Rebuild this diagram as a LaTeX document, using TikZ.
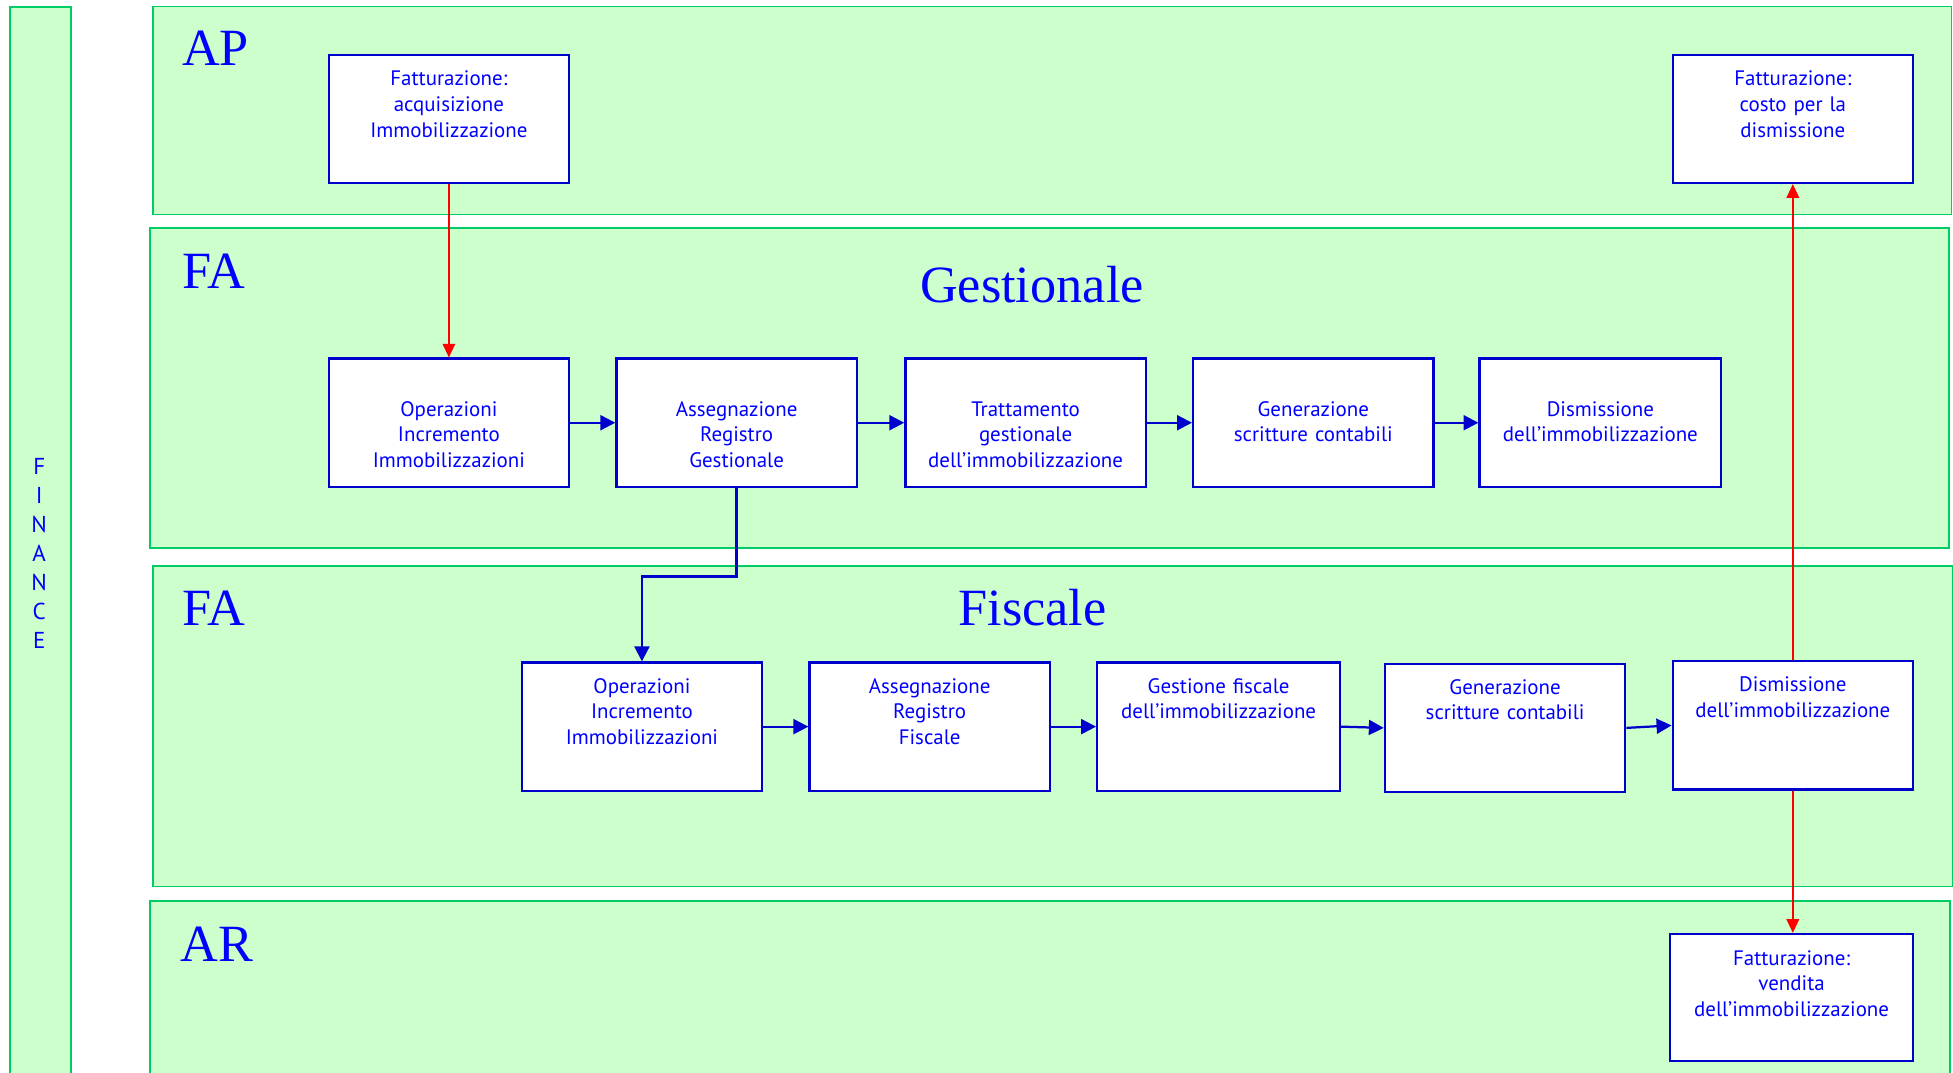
\documentclass[tikz,border=0pt]{standalone}
\usepackage{fontspec}
\setmainfont{Liberation Serif}
\newfontfamily\boxfont{PT Sans}
\usetikzlibrary{arrows.meta}
\definecolor{lanefill}{HTML}{CCFFCC}
\definecolor{laneline}{HTML}{00CC66}
\definecolor{boxline}{HTML}{0000CC}
\definecolor{txtblue}{HTML}{0000FF}
\definecolor{flowred}{HTML}{FF0000}
\begin{document}
\begin{tikzpicture}[x=1pt,y=-1pt,
  lane/.style={draw=laneline, fill=lanefill, line width=1.5pt, inner sep=0pt, anchor=north west},
  procbox/.style={draw=boxline, fill=white, line width=1.8pt, inner sep=0pt, anchor=north west,
    minimum width=193pt, minimum height=103pt},
  boxtext/.style={text=txtblue, font=\boxfont\fontsize{16.8}{20.5}\selectfont, text width=190pt,
    align=center, inner sep=0pt, anchor=base},
  biglabel/.style={text=txtblue, font=\fontsize{42}{50}\selectfont, inner sep=0pt},
  bflow/.style={draw=boxline, line width=1.8pt, -{Triangle[length=12pt,width=12pt]}},
  rflow/.style={draw=flowred, line width=1.5pt, -{Triangle[length=11pt,width=10pt]}},
]
\clip (0,0) rectangle (1568,861);
% lanes
\node[lane, minimum width=49pt, minimum height=880pt] (fin) at (7,5) {};
\node[lane, minimum width=1444pt, minimum height=167pt] (ap) at (122,4.5) {};
\node[lane, minimum width=1444pt, minimum height=256.5pt] (fag) at (120,182.5) {};
\node[lane, minimum width=1445pt, minimum height=257pt] (faf) at (122,454) {};
\node[lane, minimum width=1445pt, minimum height=160pt] (ar) at (120,722.5) {};
% FINANCE
\node[text=txtblue, font=\boxfont\fontsize{18.5}{23.3}\selectfont, align=center, inner sep=0pt]
  (fintext) at (31.5,444.5) {F\\I\\N\\A\\N\\C\\E};
% lane labels
\node[biglabel, anchor=base west] (aplab) at (146,52.5) {AP};
\node[biglabel, anchor=base west] (fag-lab) at (146,232) {FA};
\node[biglabel, anchor=base] (gest-lab) at (828.5,242.5) {Gestionale};
\node[biglabel, anchor=base west] (faf-lab) at (146,502) {FA};
\node[biglabel, anchor=base] (fisc-lab) at (829,502) {Fiscale};
\node[biglabel, anchor=base west] (ar-lab) at (145,772) {AR};
% AP boxes
\node[procbox] (apl) at (263,43) {};
\node[boxtext] (apl-t) at ([yshift=-26pt]apl.north) {Fatturazione:\\acquisizione\\Immobilizzazione};
\node[procbox] (apr) at (1342,43) {};
\node[boxtext] (apr-t) at ([yshift=-26pt]apr.north) {Fatturazione:\\costo per la\\dismissione};
% Gestionale row
\node[procbox] (g1) at (263,287) {};
\node[boxtext] (g1-t) at ([yshift=-47pt]g1.north) {Operazioni\\Incremento\\Immobilizzazioni};
\node[procbox] (g2) at (494,287) {};
\node[boxtext] (g2-t) at ([yshift=-47pt]g2.north) {Assegnazione\\Registro\\Gestionale};
\node[procbox] (g3) at (726,287) {};
\node[boxtext] (g3-t) at ([yshift=-47pt]g3.north) {Trattamento\\gestionale\\dell’immobilizzazione};
\node[procbox] (g4) at (957,287) {};
\node[boxtext] (g4-t) at ([yshift=-47pt]g4.north) {Generazione\\scritture contabili};
\node[procbox, minimum width=194pt] (g5) at (1187,287) {};
\node[boxtext] (g5-t) at ([yshift=-47pt]g5.north) {Dismissione\\dell’immobilizzazione};
% Fiscale row
\node[procbox] (f1) at (418,531) {};
\node[boxtext] (f1-t) at ([yshift=-25.5pt]f1.north) {Operazioni\\Incremento\\Immobilizzazioni};
\node[procbox] (f2) at (649,531) {};
\node[boxtext] (f2-t) at ([yshift=-25.5pt]f2.north) {Assegnazione\\Registro\\Fiscale};
\node[procbox, minimum width=195pt] (f3) at (880,531) {};
\node[boxtext] (f3-t) at ([yshift=-25.5pt]f3.north) {Gestione fiscale\\dell’immobilizzazione};
\node[procbox] (f4) at (1111,532) {};
\node[boxtext] (f4-t) at ([yshift=-25.5pt]f4.north) {Generazione\\scritture contabili};
\node[procbox] (f5) at (1342,530) {};
\node[boxtext] (f5-t) at ([yshift=-25.5pt]f5.north) {Dismissione\\dell’immobilizzazione};
% AR box
\node[procbox, minimum width=195pt, minimum height=102pt] (arb) at (1340,749) {};
\node[boxtext] (arb-t) at ([yshift=-26pt]arb.north) {Fatturazione:\\vendita\\dell’immobilizzazione};
% blue flows
\draw[bflow] (g1.east) -- (g2.west);
\draw[bflow] (g2.east) -- (g3.west);
\draw[bflow] (g3.east) -- (g4.west);
\draw[bflow] (g4.east) -- (g5.west);
\coordinate (jog) at ([yshift=-71pt]g2.south);
\draw[bflow] (g2.south) |- (jog) -| (f1.north);
\draw[bflow] (f1.east) -- (f2.west);
\draw[bflow] (f2.east) -- (f3.west);
\draw[bflow] (f3.east) -- (f4.west);
\draw[bflow] (f4.east) -- (f5.west);
% red flows
\draw[rflow] (apl.south) -- (g1.north);
\draw[rflow] (f5.north) -- (apr.south);
\draw[rflow] (f5.south) -- (f5.south |- arb.north);
\end{tikzpicture}
\end{document}
